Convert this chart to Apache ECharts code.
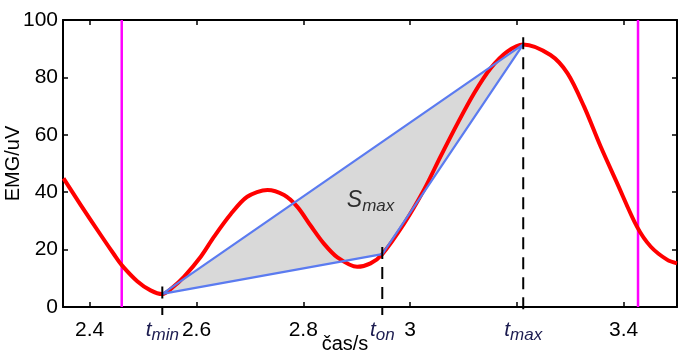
<!DOCTYPE html>
<html>
<head>
<meta charset="utf-8">
<script src="https://cdn.jsdelivr.net/npm/echarts@6/dist/echarts.min.js"></script>
<style>html,body{margin:0;padding:0;background:#fff}#c{width:694px;height:359px}</style>
</head>
<body>
<div id="c"></div>
<script>
// EMG signal (red curve)
var emgX = [2.351, 2.383, 2.421, 2.446, 2.460, 2.489, 2.514, 2.536, 2.555, 2.577, 2.608, 2.633, 2.664, 2.695, 2.733, 2.764, 2.789, 2.814, 2.839, 2.864, 2.901, 2.926, 2.948, 2.989, 3.026, 3.057, 3.089, 3.120, 3.151, 3.182, 3.212, 3.263, 3.295, 3.326, 3.357, 3.388, 3.425, 3.451, 3.482, 3.500];
var emgY = [44.8, 35.6, 25.0, 18.2, 14.6, 9.0, 5.8, 4.5, 6.8, 10.6, 17.5, 24.5, 32.3, 38.4, 40.8, 39.0, 34.9, 28.3, 22.0, 17.3, 14.0, 15.2, 18.4, 29.1, 40.8, 52.4, 64.0, 74.5, 83.2, 89.0, 91.5, 87.8, 81.4, 69.8, 55.9, 43.1, 28.0, 21.0, 16.4, 15.2];
// key time points: t_min, t_on, t_max
var keyNames = ['min', 'on', 'max'];
var keyX = [2.536, 2.948, 3.212];
var keyY = [4.6, 18.4, 91.5];
// magenta window limits
var windowX = [2.46, 3.427];
// axis ticks
var xTicks = [2.4, 2.6, 2.8, 3.0, 3.2, 3.4];
var xLabelNums = [2.4, 2.6, 2.8, 3.0, 3.4];
var yTicks = [0, 20, 40, 60, 80, 100];
// S_max label anchor
var sLabel = [2.926, 36.5];

var xMin = 2.35, xMax = 3.5;
var emgData = emgX.map(function (x, i) { return [x, emgY[i]]; });
var triData = [[keyX[0], keyY[0]], [keyX[1], keyY[1]], [keyX[2], keyY[2]], [keyX[0], keyY[0]]];
var xLabelVals = xLabelNums.concat(keyX).sort(function (a, b) { return a - b; });

var chart = echarts.init(document.getElementById('c'), null, { renderer: 'canvas' });
var navy = '#1c1c50';
var series = [];

series.push({
  type: 'custom', xAxisIndex: 0, yAxisIndex: 0, silent: true, z: 1,
  data: [[keyX[0], keyY[0]]],
  renderItem: function (params, api) {
    var pts = keyX.map(function (x, i) { return api.coord([x, keyY[i]]); });
    return { type: 'polygon', shape: { points: pts }, style: { fill: '#d9d9d9', stroke: null } };
  }
});
windowX.forEach(function (x) {
  series.push({
    type: 'line', data: [[x, 0], [x, 100]], symbol: 'none', silent: true, z: 2,
    lineStyle: { color: '#ff00ff', width: 2.5 }
  });
});
series.push({
  type: 'line', data: emgData, smooth: 0.3, symbol: 'none', silent: true, z: 3,
  lineStyle: { color: '#ff0000', width: 4, join: 'round' }
});
series.push({
  type: 'line', data: triData, symbol: 'none', silent: true, z: 4,
  lineStyle: { color: '#5b7bf0', width: 2.2 }
});
keyX.forEach(function (x, i) {
  series.push({
    type: 'line', data: [[x, keyY[i] + 2.5], [x, -2.8]], symbol: 'none', silent: true, z: 5, clip: false,
    lineStyle: { color: '#000', width: 2, type: [12, 8] }
  });
});
series.push({
  type: 'scatter', data: [sLabel], symbolSize: 1, itemStyle: { color: 'rgba(0,0,0,0)' }, silent: true, z: 6,
  label: {
    show: true, position: 'inside', formatter: '{S|S}{m|max}',
    rich: {
      S: { fontFamily: 'Liberation Sans, Arial', fontStyle: 'italic', fontSize: 23, color: '#000', verticalAlign: 'top', lineHeight: 26 },
      m: { fontFamily: 'Liberation Sans, Arial', fontStyle: 'italic', fontSize: 17, color: '#000', verticalAlign: 'bottom', lineHeight: 26, padding: [13, 0, 0, 0] }
    }
  }
});

var font = 'Liberation Sans, Arial, sans-serif';
chart.setOption({
  animation: false,
  backgroundColor: '#fff',
  grid: { left: 63, right: 17, top: 20, bottom: 52, containLabel: false, outerBoundsMode: 'none' },
  xAxis: [{
    type: 'value', min: xMin, max: xMax, position: 'bottom',
    name: 'čas/s', nameLocation: 'middle', nameGap: 27, nameMoveOverlap: false,
    nameTextStyle: { fontFamily: font, fontSize: 20, color: '#000', padding: [0, 50, 0, 0] },
    axisLine: { show: true, lineStyle: { color: '#000', width: 2 } },
    axisTick: { show: true, inside: true, length: 5, customValues: xTicks, lineStyle: { color: '#000', width: 1.5 } },
    axisLabel: {
      show: true, customValues: xLabelVals, margin: 13, color: '#000', fontFamily: font, fontSize: 21,
      formatter: function (v) {
        for (var i = 0; i < keyX.length; i++) {
          if (Math.abs(v - keyX[i]) < 1e-6) return '{t|t}{s|' + keyNames[i] + '}';
        }
        return Math.abs(v - 3) < 1e-6 ? '3' : v.toFixed(1);
      },
      rich: {
        t: { fontFamily: font, fontStyle: 'italic', fontSize: 21, color: navy, verticalAlign: 'top', lineHeight: 24 },
        s: { fontFamily: font, fontStyle: 'italic', fontSize: 17, color: navy, verticalAlign: 'bottom', lineHeight: 24, padding: [20, 0, 0, 0] }
      }
    },
    splitLine: { show: false }
  }, {
    type: 'value', min: xMin, max: xMax, position: 'top',
    axisLine: { show: true, onZero: false, lineStyle: { color: '#000', width: 2 } },
    axisTick: { show: true, inside: true, length: 5, customValues: xTicks, lineStyle: { color: '#000', width: 1.5 } },
    axisLabel: { show: false }, splitLine: { show: false }
  }],
  yAxis: [{
    type: 'value', min: 0, max: 100, interval: 20, position: 'left',
    name: 'EMG/uV', nameLocation: 'middle', nameGap: 40, nameRotate: 90, nameMoveOverlap: false,
    nameTextStyle: { fontFamily: font, fontSize: 20, color: '#000' },
    axisLine: { show: true, onZero: false, lineStyle: { color: '#000', width: 2 } },
    axisTick: { show: true, inside: true, length: 5, lineStyle: { color: '#000', width: 1.5 } },
    axisLabel: { show: true, margin: 5, color: '#000', fontFamily: font, fontSize: 21 },
    splitLine: { show: false }
  }, {
    type: 'value', min: 0, max: 100, interval: 20, position: 'right',
    axisLine: { show: true, onZero: false, lineStyle: { color: '#000', width: 2 } },
    axisTick: { show: true, inside: true, length: 5, lineStyle: { color: '#000', width: 1.5 } },
    axisLabel: { show: false }, splitLine: { show: false }
  }],
  series: series
});
</script>
</body>
</html>
